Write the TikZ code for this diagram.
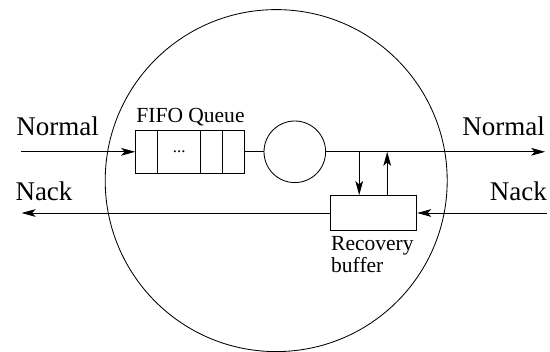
\documentclass[tikz,border=0pt]{standalone}
\usepackage{fontspec}
\setmainfont{Liberation Serif}
\usetikzlibrary{arrows.meta}
\newcommand{\biglbl}[1]{\fontsize{19.2}{23}\selectfont #1}
\newcommand{\smalllbl}[1]{\fontsize{15.3}{15.3}\selectfont #1}
\begin{document}
\begin{tikzpicture}[line width=0.6pt,
        >={Stealth[length=10pt,width=5.5pt,inset=2.5pt]},
        biglabel/.style={anchor=base, inner sep=0pt},
        smalllabel/.style={inner sep=0pt},
        boxnode/.style={draw, inner sep=0pt}]
        \useasboundingbox (0,0) rectangle (13.75,8.775);

        % Router (big circle)
        \draw (6.905,4.26) circle (4.275);

        % FIFO queue with its cells
        \node[boxnode, minimum width=2.71cm, minimum height=1.08cm] (queue) at (4.745,4.98) {};
        \foreach \x in {3.94,5.02,5.56}
            \draw (\x,4.44) -- (\x,5.52);
        \node[anchor=base, inner sep=0pt] (dots) at (4.48,4.97) {\fontsize{12}{12}\selectfont ...};
        \node[smalllabel, anchor=base west] (queuelabel) at (3.40,5.71) {\smalllbl{FIFO Queue}};

        % Server
        \node[draw, circle, minimum size=1.54cm, inner sep=0pt] (server) at (7.37,4.98) {};

        % Recovery buffer
        \node[boxnode, minimum width=2.15cm, minimum height=0.875cm] (recovery) at (9.345,3.45) {};
        \node[smalllabel, anchor=north west, align=left, font=\fontsize{15.3}{15.3}\selectfont] (recoverylabel) at (8.27,2.87) {Recovery\\buffer};

        % Normal traffic
        \coordinate (normalin) at (0.52,4.98);
        \coordinate (normalout) at (13.63,4.98);
        \draw[->] (normalin) -- (queue.west);
        \draw (queue.east) -- (server.west);
        \draw[->] (server.east) -- (normalout);
        \node[biglabel] (normalleft) at (1.44,5.375) {\biglbl{Normal}};
        \node[biglabel] (normalright) at (12.59,5.375) {\biglbl{Normal}};

        % Copies to and from the buffer
        \coordinate (tapdown) at (8.98,4.98);
        \coordinate (tapup) at (9.68,4.98);
        \draw[->] (tapdown) -- (tapdown |- recovery.north);
        \draw[->] (tapup |- recovery.north) -- (tapup);

        % Nack traffic
        \coordinate (nackin) at (13.67,3.45);
        \coordinate (nackout) at (0.54,3.45);
        \draw[->] (nackin) -- (recovery.east);
        \draw[->] (recovery.west) -- (nackout);
        \node[biglabel] (nackleft) at (1.10,3.75) {\biglbl{Nack}};
        \node[biglabel] (nackright) at (12.96,3.75) {\biglbl{Nack}};
    \end{tikzpicture}
\end{document}
